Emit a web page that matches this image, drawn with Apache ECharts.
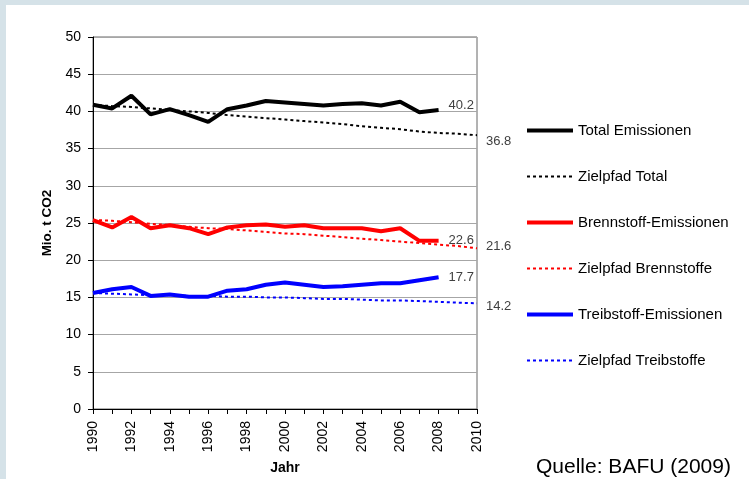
<!DOCTYPE html>
<html>
<head>
<meta charset="utf-8">
<script src="https://cdn.jsdelivr.net/npm/echarts@6/dist/echarts.min.js"></script>
<style>
html,body{margin:0;padding:0;background:#fff;}
#c{width:749px;height:479px;}
</style>
</head>
<body>
<div id="c"></div>
<script>
const years = ['1990','1991','1992','1993','1994','1995','1996','1997','1998','1999','2000','2001','2002','2003','2004','2005','2006','2007','2008','2009','2010'];
const totalEmissionen = [40.9,40.4,42.1,39.6,40.3,39.5,38.6,40.3,40.8,41.4,41.2,41.0,40.8,41.0,41.1,40.8,41.3,39.9,40.2];
const zielpfadTotal = [40.9,40.7,40.6,40.4,40.2,40.0,39.8,39.5,39.3,39.1,38.9,38.7,38.5,38.3,38.0,37.8,37.6,37.3,37.1,37.0,36.8];
const brennstoffEmissionen = [25.4,24.4,25.8,24.3,24.7,24.3,23.5,24.4,24.7,24.8,24.5,24.7,24.3,24.3,24.3,23.9,24.3,22.6,22.6];
const zielpfadBrennstoffe = [25.4,25.3,25.1,24.9,24.7,24.5,24.3,24.2,24.0,23.8,23.6,23.5,23.3,23.1,22.9,22.7,22.5,22.3,22.1,21.9,21.6];
const treibstoffEmissionen = [15.6,16.1,16.4,15.2,15.4,15.1,15.1,15.9,16.1,16.7,17.0,16.7,16.4,16.5,16.7,16.9,16.9,17.3,17.7];
const zielpfadTreibstoffe = [15.6,15.5,15.4,15.3,15.3,15.2,15.2,15.1,15.1,15.0,15.0,14.9,14.8,14.8,14.7,14.6,14.6,14.5,14.4,14.3,14.2];
const yTicks = [0,5,10,15,20,25,30,35,40,45,50];

const FONT = "'Liberation Sans', Arial, sans-serif";
const chart = echarts.init(document.getElementById('c'), null, {renderer:'canvas'});

function endLbl(arr, dist, dy){
  return {show:true, distance:dist, offset:[0,dy], color:'#404040', fontSize:13, fontFamily:FONT,
    formatter: () => arr[arr.length-1].toFixed(1)};
}
function solid(name, data, color, dy){
  return {name, type:'line', data, symbol:'none', showSymbol:false, smooth:false,
    lineStyle:{color, width:4}, itemStyle:{color}, endLabel:endLbl(data,10,dy), z:3};
}
function dotted(name, data, color, dy, w){
  return {name, type:'line', data, symbol:'none', showSymbol:false,
    lineStyle:{color, width:w, type:[3,3]}, itemStyle:{color}, endLabel:endLbl(data,9,dy), z:2};
}

chart.setOption({
  animation:false,
  backgroundColor:'#fff',
  textStyle:{fontFamily:FONT},
  graphic:[
    {type:'rect', shape:{x:0,y:0,width:749,height:5}, style:{fill:'#d5e2e8'}, z:-10, silent:true},
    {type:'rect', shape:{x:0,y:0,width:6,height:479}, style:{fill:'#d5e2e8'}, z:-10, silent:true},
    {type:'text', x:47, y:223, rotation:Math.PI/2,
      style:{text:'Mio. t CO2', font:"bold 13.5px 'Liberation Sans', Arial", fill:'#000', align:'center', verticalAlign:'middle'}},
    {type:'text', x:285, y:468,
      style:{text:'Jahr', font:"bold 14px 'Liberation Sans', Arial", fill:'#000', align:'center', verticalAlign:'middle'}},
    {type:'text', x:536, y:467,
      style:{text:'Quelle: BAFU (2009)', font:"21px 'Liberation Sans', Arial", fill:'#000', align:'left', verticalAlign:'middle'}}
  ],
  grid:{left:93, top:37, width:384, height:372, show:true, borderColor:'#666', borderWidth:1, backgroundColor:'transparent'},
  legend:{
    orient:'vertical', left:525, top:123, padding:0, itemWidth:46, itemHeight:14, itemGap:31,
    itemStyle:{opacity:0},
    lineStyle:{width:'inherit'},
    textStyle:{fontSize:15, color:'#000', fontFamily:FONT},
    data:['Total Emissionen','Zielpfad Total','Brennstoff-Emissionen','Zielpfad Brennstoffe','Treibstoff-Emissionen','Zielpfad Treibstoffe']
  },
  xAxis:{
    type:'category', data:years, boundaryGap:false,
    axisLine:{lineStyle:{color:'#000', width:1}},
    axisTick:{show:true, interval:0, length:5, lineStyle:{color:'#000'}},
    axisLabel:{interval:1, rotate:90, margin:12, fontSize:14, color:'#000', fontFamily:FONT},
    splitLine:{show:false}
  },
  yAxis:{
    type:'value', min:yTicks[0], max:yTicks[yTicks.length-1], interval:5,
    axisLine:{show:true, lineStyle:{color:'#000', width:1}},
    axisTick:{show:true, length:5, lineStyle:{color:'#000'}},
    axisLabel:{margin:12, fontSize:14, color:'#000', fontFamily:FONT},
    splitLine:{show:true, lineStyle:{color:'#a6a6a6', width:1}}
  },
  series:[
    solid('Total Emissionen', totalEmissionen, '#000000', -4),
    dotted('Zielpfad Total', zielpfadTotal, '#000000', 6, 2),
    solid('Brennstoff-Emissionen', brennstoffEmissionen, '#ff0000', 0),
    dotted('Zielpfad Brennstoffe', zielpfadBrennstoffe, '#ff0000', -2, 2),
    solid('Treibstoff-Emissionen', treibstoffEmissionen, '#0000ff', 0),
    dotted('Zielpfad Treibstoffe', zielpfadTreibstoffe, '#0000ff', 3, 2)
  ]
});
</script>
</body>
</html>
